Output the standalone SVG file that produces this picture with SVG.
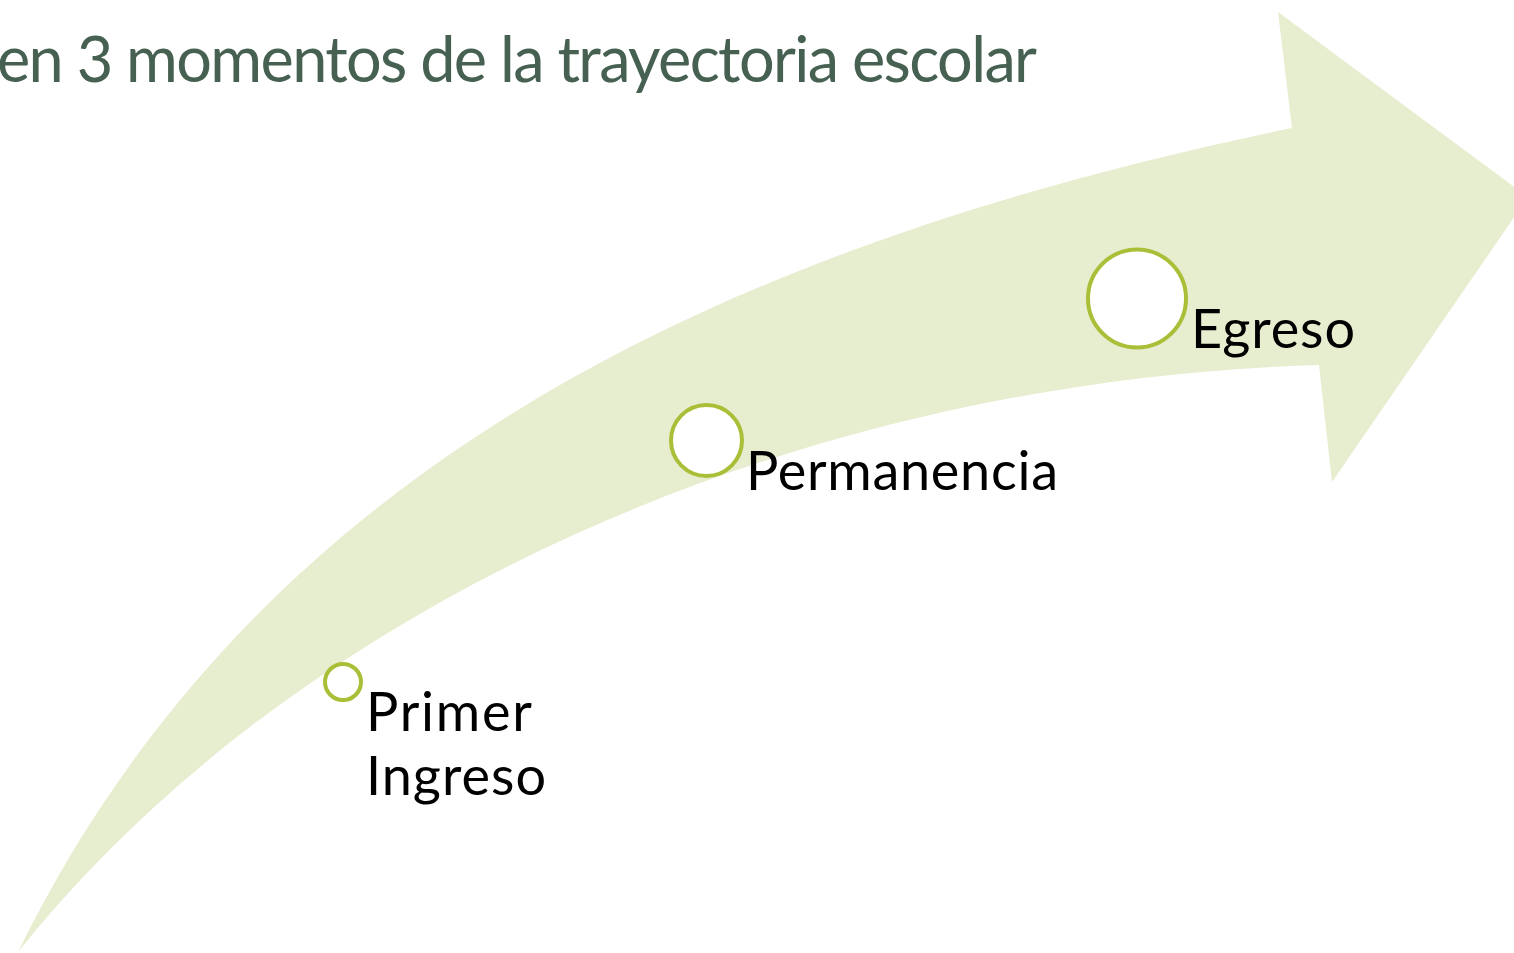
<svg xmlns="http://www.w3.org/2000/svg" width="1514" height="953" viewBox="0 0 1514 953">
<style>
.lbl{font-family:Lato,"Open Sans","Liberation Sans",sans-serif;font-size:54px;fill:#000}
.ttl{font-family:Lato,"Open Sans","Liberation Sans",sans-serif;font-size:63px;fill:#466152}
.dot{fill:#fff;stroke:#ABBE38;stroke-width:4}
</style>
<rect width="1514" height="953" fill="#fff"/>
<g id="arrow">
<path d="M18,952 C250,480 700,250 1292,128 L1278,12 L1528,197 L1332,482 L1319,365 C800,380 300,600 18,952 Z" fill="#E7EDCF"/>
</g>
<g id="title">
<text class="ttl" x="-3" y="82" textLength="1040">en 3 momentos de la trayectoria escolar</text>
</g>
<g id="node-primer-ingreso">
<circle class="dot" cx="343" cy="682" r="18"/>
<text class="lbl" x="366" y="731" textLength="166">Primer</text>
<text class="lbl" x="366" y="795" textLength="180">Ingreso</text>
</g>
<g id="node-permanencia">
<circle class="dot" cx="706.5" cy="440.5" r="35.5"/>
<text class="lbl" x="746" y="490" textLength="312">Permanencia</text>
</g>
<g id="node-egreso">
<circle class="dot" cx="1137" cy="298.5" r="49"/>
<text class="lbl" x="1191" y="348" textLength="164">Egreso</text>
</g>
</svg>
